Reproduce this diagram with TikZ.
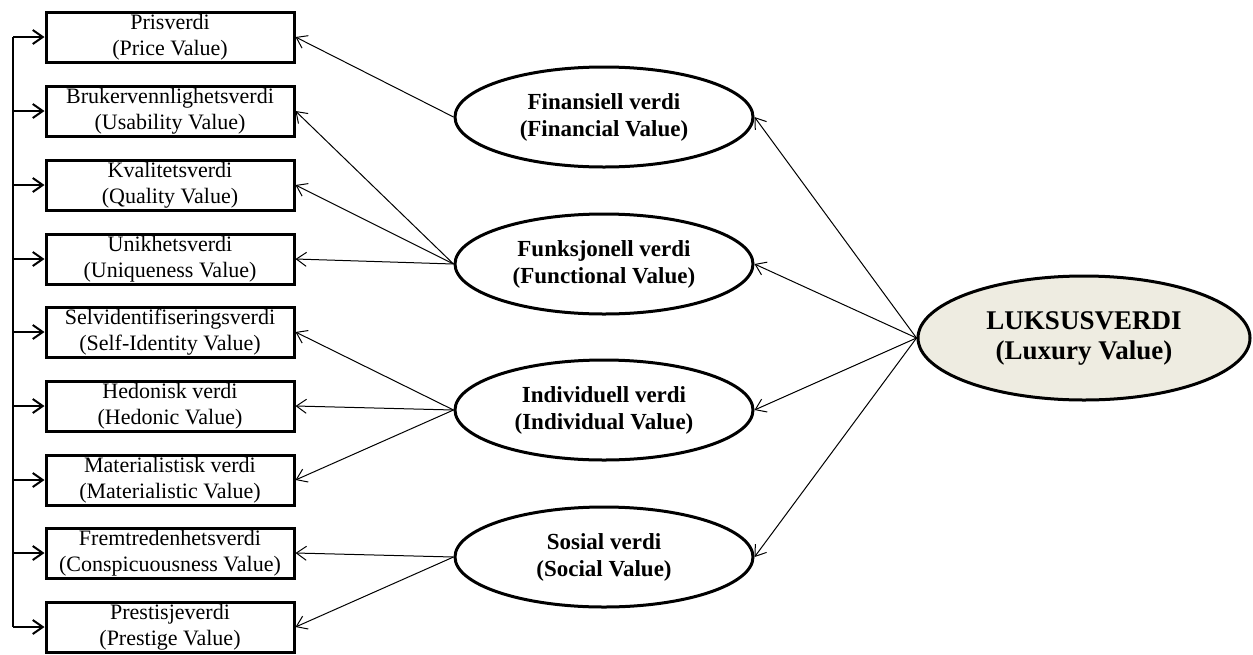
\documentclass[tikz,border=0pt]{standalone}
\usepackage{fontspec}
\setmainfont{Liberation Serif}
\usepackage{xcolor}
\usetikzlibrary{positioning,arrows.meta,shapes.geometric}
\definecolor{luxfill}{RGB}{238,236,225}

\begin{document}
\begin{tikzpicture}[x=0.5pt, y=-0.5pt, >={Straight Barb[length=5pt,width=7pt]},
    every node/.style={font=\fontsize{11}{13}\selectfont, align=center},
    valuebox/.style={draw, rectangle, line width=1.5pt, minimum width=124pt, minimum height=25pt, inner sep=0pt},
    dimension/.style={draw, ellipse, line width=1.5pt, minimum width=149pt, minimum height=50pt, inner sep=0pt, font=\fontsize{11.5}{13.5}\selectfont\bfseries},
    link/.style={->, line width=0.5pt}]
    \useasboundingbox (0,0) rectangle (1253,654);

    % Value boxes
    \node[valuebox] (b1) at (170,37) {Prisverdi\\(Price Value)};
    \node[valuebox] (b2) at (170,111) {Brukervennlighetsverdi\\(Usability Value)};
    \node[valuebox] (b3) at (170,185) {Kvalitetsverdi\\(Quality Value)};
    \node[valuebox] (b4) at (170,259) {Unikhetsverdi\\(Uniqueness Value)};
    \node[valuebox] (b5) at (170,332) {Selvidentifiseringsverdi\\(Self-Identity Value)};
    \node[valuebox] (b6) at (170,406) {Hedonisk verdi\\(Hedonic Value)};
    \node[valuebox] (b7) at (170,480) {Materialistisk verdi\\(Materialistic Value)};
    \node[valuebox] (b8) at (170,553) {Fremtredenhetsverdi\\(Conspicuousness Value)};
    \node[valuebox] (b9) at (170,627) {Prestisjeverdi\\(Prestige Value)};

    % Dimensions
    \node[dimension] (fin) at (604,117) {Finansiell verdi\\(Financial Value)};
    \node[dimension] (fun) at (604,264) {Funksjonell verdi\\(Functional Value)};
    \node[dimension] (ind) at (604,410) {Individuell verdi\\(Individual Value)};
    \node[dimension] (sos) at (604,557) {Sosial verdi\\(Social Value)};

    % Luxury value
    \node[draw, ellipse, line width=1.5pt, fill=luxfill, minimum width=166pt, minimum height=62pt, inner sep=0pt,
          font=\fontsize{13.5}{15}\selectfont\bfseries] (lux) at (1084,338) {LUKSUSVERDI\\(Luxury Value)};

    % Left rail
    \coordinate (railtop) at (13,37);
    \coordinate (railbot) at (13,627);
    \draw[line width=1pt] (railtop) -- (railbot);
    \foreach \b in {b1,b2,b3,b4,b5,b6,b7,b8,b9}
        \draw[->, line width=1pt] (\b.west -| railtop) -- (\b.west);

    % Connections
    \draw[link] (lux.west) -- (fin.east);
    \draw[link] (lux.west) -- (fun.east);
    \draw[link] (lux.west) -- (ind.east);
    \draw[link] (lux.west) -- (sos.east);
    \draw[link] (fin.west) -- (b1.east);
    \draw[link] (fun.west) -- (b2.east);
    \draw[link] (fun.west) -- (b3.east);
    \draw[link] (fun.west) -- (b4.east);
    \draw[link] (ind.west) -- (b5.east);
    \draw[link] (ind.west) -- (b6.east);
    \draw[link] (ind.west) -- (b7.east);
    \draw[link] (sos.west) -- (b8.east);
    \draw[link] (sos.west) -- (b9.east);
\end{tikzpicture}
\end{document}
